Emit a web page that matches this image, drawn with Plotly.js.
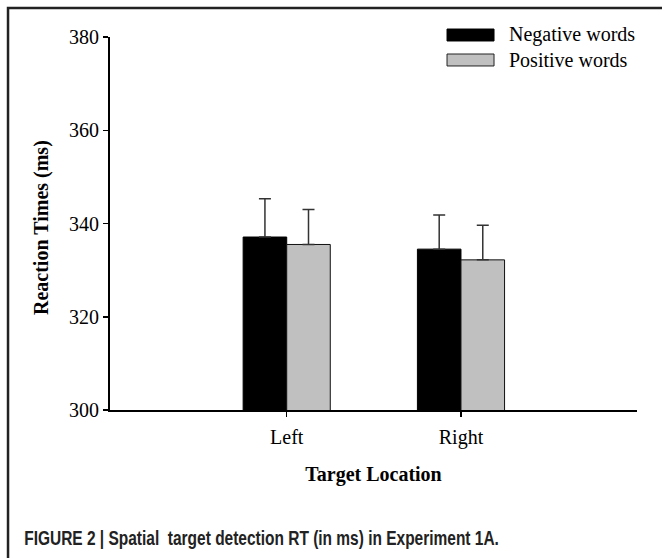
<!DOCTYPE html>
<html>
<head>
<meta charset="utf-8">
<script src="https://cdn.plot.ly/plotly-3.0.1.min.js"></script>
<style>
html,body{margin:0;padding:0;background:#fff;}
#chart{width:662px;height:558px;}
</style>
</head>
<body>
<div id="chart"></div>
<script>
const categories = ["Left", "Right"];
const negativeWords = [337.1, 334.5];
const negativeErr = [8.2, 7.3];
const positiveWords = [335.5, 332.2];
const positiveErr = [7.5, 7.4];
const seriesNames = ["Negative words", "Positive words"];
const yTicks = [300, 320, 340, 360, 380];
const caption = "FIGURE 2 | Spatial&nbsp;&nbsp;target detection RT (in ms) in Experiment 1A.";

const serif = "Liberation Serif, Times New Roman, serif";

const traces = [
  {
    type: "bar", name: seriesNames[0], x: categories, y: negativeWords,
    marker: {color: "#000000", line: {color: "#000000", width: 1}},
    error_y: {type: "data", symmetric: false, array: negativeErr, arrayminus: [0, 0],
              color: "#333333", thickness: 1.5, width: 6},
    showlegend: false
  },
  {
    type: "bar", name: seriesNames[1], x: categories, y: positiveWords,
    marker: {color: "#c0c0c0", line: {color: "#111111", width: 1}},
    error_y: {type: "data", symmetric: false, array: positiveErr, arrayminus: [0, 0],
              color: "#333333", thickness: 1.5, width: 6},
    showlegend: false
  }
];

const layout = {
  width: 662, height: 558,
  margin: {l: 110, r: 25, t: 37, b: 148},
  paper_bgcolor: "#ffffff", plot_bgcolor: "#ffffff",
  barmode: "group", bargap: 0.5, bargroupgap: 0,
  showlegend: false,
  font: {family: serif, color: "#000", size: 20},
  xaxis: {
    type: "category", range: [-1.014, 2.01],
    showline: true, linecolor: "#000", linewidth: 2,
    ticks: "outside", ticklen: 5, tickwidth: 1.5, tickcolor: "#000",
    ticklabelstandoff: 3,
    tickfont: {family: serif, size: 20, color: "#000"},
    showgrid: false, zeroline: false, fixedrange: true,
    title: {text: "<b>Target Location</b>", font: {family: serif, size: 20, color: "#000"}}
  },
  yaxis: {
    range: [300, 380], tickvals: yTicks,
    showline: true, linecolor: "#000", linewidth: 2,
    ticks: "outside", ticklen: 5, tickwidth: 1.5, tickcolor: "#000",
    tickfont: {family: serif, size: 20, color: "#000"},
    showgrid: false, zeroline: false, fixedrange: true
  },
  shapes: [
    {type: "path", xref: "paper", yref: "paper",
     path: "M -0.1935 -0.45 L -0.1935 1.0777 L 1.1 1.0777",
     line: {color: "#222222", width: 2.5}},
    {type: "rect", xref: "paper", yref: "paper", x0: 0.6395, x1: 0.7287, y0: 0.9893, y1: 1.0214,
     fillcolor: "#000000", line: {color: "#000000", width: 1}},
    {type: "rect", xref: "paper", yref: "paper", x0: 0.6395, x1: 0.7287, y0: 0.9223, y1: 0.9544,
     fillcolor: "#c0c0c0", line: {color: "#222222", width: 1}}
  ],
  annotations: [
    {xref: "paper", yref: "paper", x: -0.129, y: 0.488, xanchor: "center", yanchor: "middle",
     textangle: -90, text: "<b>Reaction Times (ms)</b>", showarrow: false,
     font: {family: serif, size: 20, color: "#000"}},
    {xref: "paper", yref: "paper", x: 0.7533, y: 1.0054, xanchor: "left", yanchor: "middle",
     text: seriesNames[0], showarrow: false, font: {family: serif, size: 20, color: "#000"}},
    {xref: "paper", yref: "paper", x: 0.7533, y: 0.9383, xanchor: "left", yanchor: "middle",
     text: seriesNames[1], showarrow: false, font: {family: serif, size: 20, color: "#000"}},
    {xref: "paper", yref: "paper", x: -0.1665, y: -0.342, xanchor: "left", yanchor: "middle",
     text: "<b>" + caption + "</b>", showarrow: false,
     font: {family: "Liberation Sans, Arial, sans-serif", size: 20, color: "#222"}}
  ]
};

Plotly.newPlot("chart", traces, layout, {displayModeBar: false, staticPlot: true}).then(function () {
  const texts = document.querySelectorAll("#chart .annotation-text");
  const cap = texts[texts.length - 1];
  if (cap) {
    const bb = cap.getBBox();
    const target = 475;
    const s = Math.min(1, target / bb.width);
    cap.style.transformBox = "fill-box";
    cap.style.transformOrigin = "left center";
    cap.style.transform = "scaleX(" + s + ")";
  }
});
</script>
</body>
</html>
